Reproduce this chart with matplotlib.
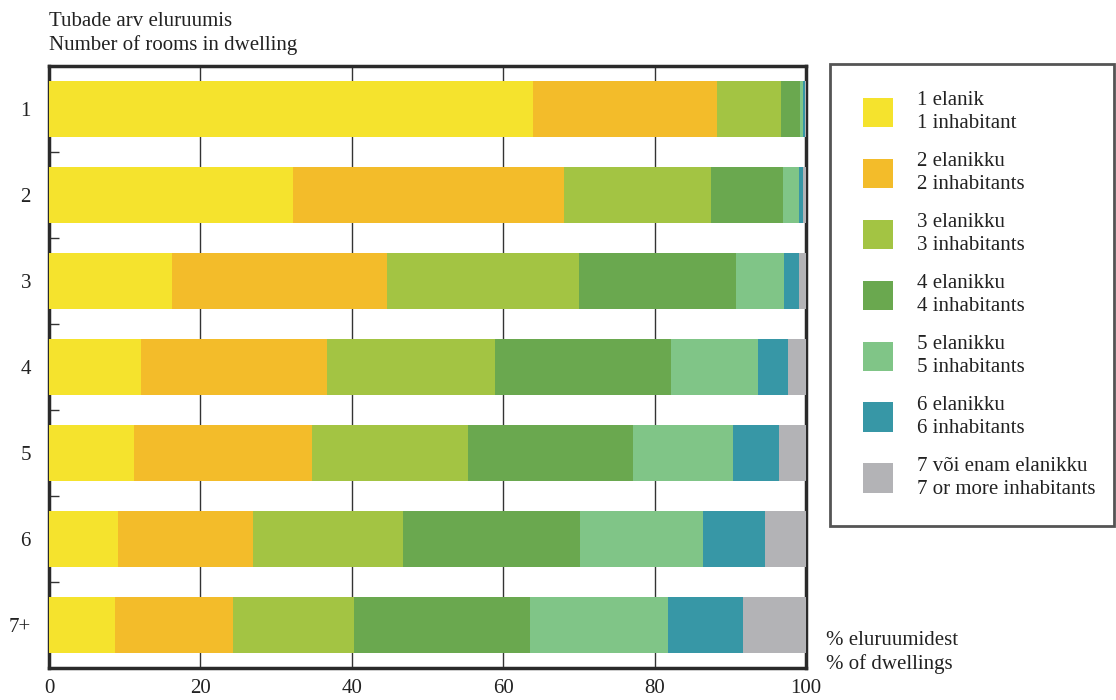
import numpy as np
import matplotlib.pyplot as plt
from matplotlib.patches import Patch
from matplotlib.legend_handler import HandlerPatch

plt.rcParams['font.family'] = ['Liberation Serif', 'DejaVu Serif']

rooms = ["1", "2", "3", "4", "5", "6", "7+"]
series_et = ["1 elanik", "2 elanikku", "3 elanikku", "4 elanikku",
             "5 elanikku", "6 elanikku", "7 või enam elanikku"]
series_en = ["1 inhabitant", "2 inhabitants", "3 inhabitants", "4 inhabitants",
             "5 inhabitants", "6 inhabitants", "7 or more inhabitants"]
colors = ["#f5e32d", "#f3bc2a", "#a3c443", "#6aa84f", "#80c587", "#3797a6", "#b3b3b6"]

# share of dwellings (%) by number of inhabitants, one list per room count
p1 = [63.9, 24.3, 8.5, 2.5, 0.4, 0.3, 0.1]
p2 = [32.2, 35.8, 19.5, 9.5, 2.1, 0.5, 0.4]
p3 = [16.2, 28.5, 25.3, 20.8, 6.3, 2.0, 0.9]
p4 = [12.2, 24.5, 22.2, 23.3, 11.5, 3.9, 2.4]
p5 = [11.2, 23.5, 20.7, 21.7, 13.3, 6.0, 3.6]
p6 = [9.1, 17.8, 19.9, 23.3, 16.3, 8.2, 5.4]
p7 = [8.7, 15.6, 16.0, 23.2, 18.3, 9.9, 8.3]
shares = np.array([p1, p2, p3, p4, p5, p6, p7])

fig = plt.figure(figsize=(11.16, 7.0), dpi=100)
ax = fig.add_axes([49 / 1116, 1 - 668 / 700, 757 / 1116, 602 / 700])

y = np.arange(len(rooms))
left = np.zeros(len(rooms))
for j in range(shares.shape[1]):
    ax.barh(y, shares[:, j], left=left, height=0.66, color=colors[j], zorder=3)
    left += shares[:, j]

ax.set_xlim(0, 100)
ax.set_ylim(6.5, -0.5)
ax.set_xticks([0, 20, 40, 60, 80, 100])
ax.grid(axis='x', color='#333333', linewidth=1.0, zorder=0)
ax.set_yticks(y)
ax.set_yticklabels(rooms)
ax.set_yticks(np.arange(0.5, 6, 1), minor=True)
ax.tick_params(axis='y', which='major', length=0, pad=13, labelsize=15, labelcolor='#222222')
ax.tick_params(axis='y', which='minor', length=7, direction='in', width=1, color='#333333')
ax.tick_params(axis='x', length=0, pad=8, labelsize=15, labelcolor='#222222')
for s in ax.spines.values():
    s.set_linewidth(2.5)
    s.set_color('#2a2a2a')

fig.text(49 / 1116, 1 - 12 / 700, "Tubade arv eluruumis\nNumber of rooms in dwelling",
         fontsize=15, va='top', ha='left', linespacing=1.3, color='#222222')
fig.text(826 / 1116, 1 - 631 / 700, "% eluruumidest\n% of dwellings",
         fontsize=15, va='top', ha='left', linespacing=1.3, color='#222222')

handles = [Patch(facecolor=c, edgecolor='none') for c in colors]
labels = [f"{a}\n{b}" for a, b in zip(series_et, series_en)]
leg = fig.legend(handles, labels, loc='upper left',
                 bbox_to_anchor=(830 / 1116, 1 - 64 / 700 - 0.01, 284 / 1116, 0.01), mode='expand',
                 fontsize=15, frameon=True, fancybox=False, handlelength=1.74, handleheight=1.8,
                 handletextpad=1.15, labelspacing=0.9, borderpad=1.3, borderaxespad=0,
                 handler_map={Patch: HandlerPatch(xpad=0.3)})
leg.get_frame().set_edgecolor('#2a2a2a')
leg.get_frame().set_linewidth(2.0)
for t in leg.get_texts():
    t.set_linespacing(1.3)
    t.set_color('#222222')

fig.savefig("out.png", dpi=100)
